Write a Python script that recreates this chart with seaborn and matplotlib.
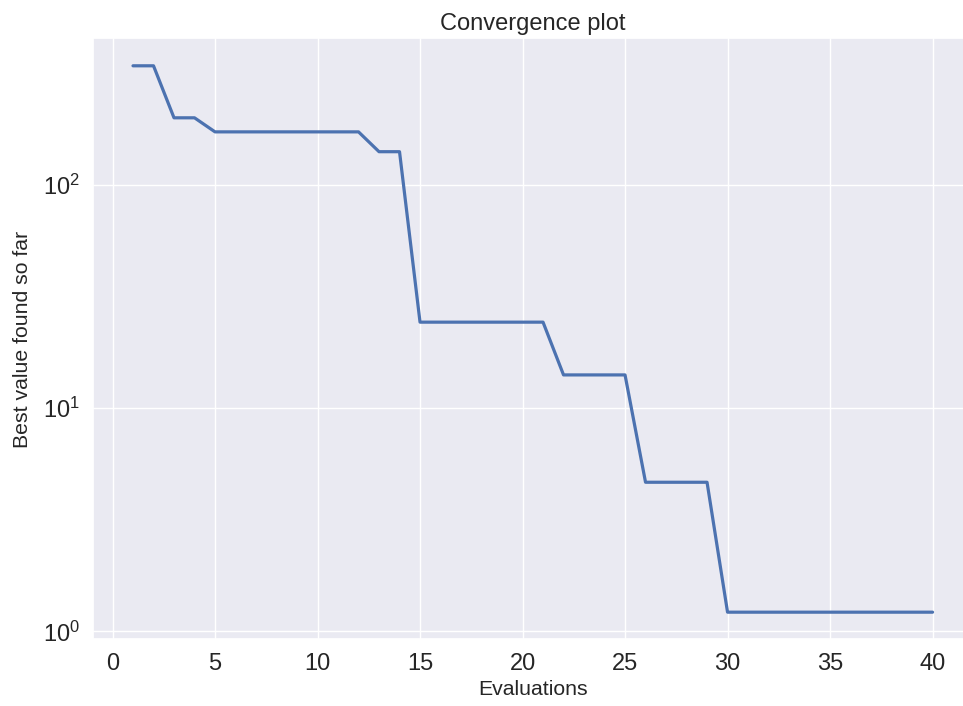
import numpy as np
import seaborn as sns
import matplotlib.pyplot as plt

evaluations = list(range(1, 41))
best_values = [342, 342,
               200, 200,
               173, 173, 173, 173, 173, 173, 173, 173,
               141, 141,
               24.3, 24.3, 24.3, 24.3, 24.3, 24.3, 24.3,
               14.1, 14.1, 14.1, 14.1,
               4.66, 4.66, 4.66, 4.66,
               1.22, 1.22, 1.22, 1.22, 1.22, 1.22, 1.22, 1.22, 1.22, 1.22, 1.22]

sns.set_theme(style='darkgrid')
plt.rcParams['font.family'] = ['Liberation Sans', 'DejaVu Sans']
plt.rcParams['mathtext.default'] = 'regular'

fig, ax = plt.subplots(figsize=(9.63, 7.06), dpi=100)
ax.set_position([0.0966, 0.0942, 0.9133, 0.8513])

sns.lineplot(x=evaluations, y=best_values, ax=ax, color='#4C72B0', linewidth=2.3)
ax.set_yscale('log')

ax.set_title('Convergence plot', fontsize=17)
ax.set_xlabel('Evaluations', fontsize=15.3)
ax.set_ylabel('Best value found so far', fontsize=15.3, labelpad=8)
ax.tick_params(axis='both', labelsize=17)

fig.savefig('out.png', dpi=100)
